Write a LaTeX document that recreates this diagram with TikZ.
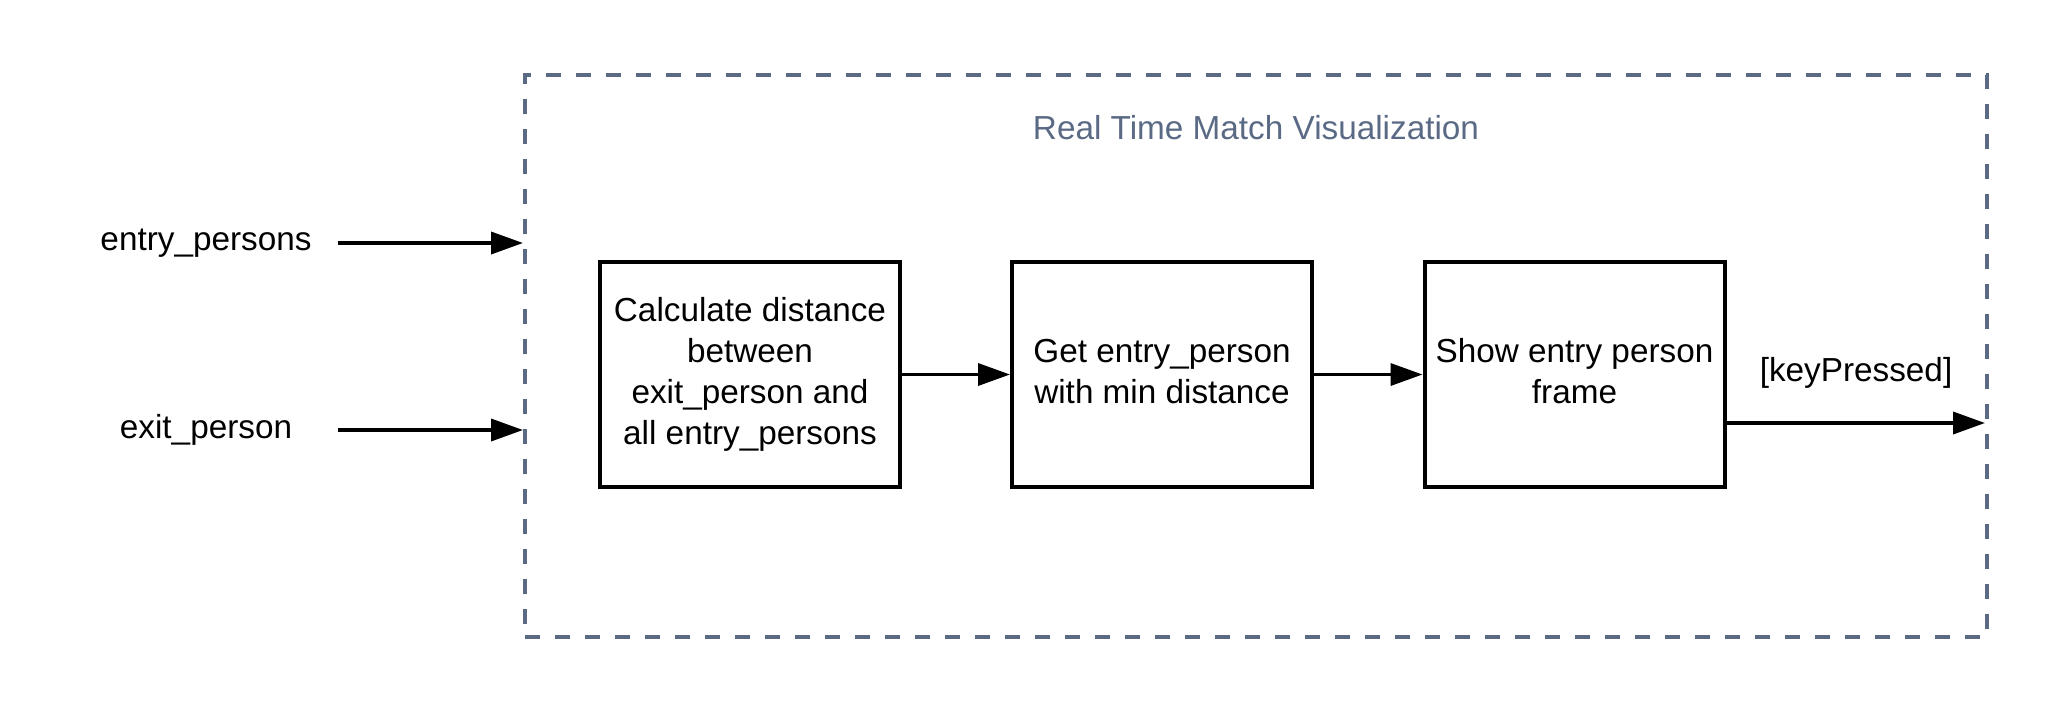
\documentclass[tikz,border=0pt]{standalone}
\usepackage{fontspec}
\setmainfont{Liberation Sans}
\usetikzlibrary{arrows.meta}
\definecolor{framecol}{HTML}{5A6A85}
\newcommand\firststrut{\rule{0pt}{29pt}}
\newcommand\laststrut{\rule[-12.5pt]{0pt}{12.5pt}}
\begin{document}
\begin{tikzpicture}[x=1pt,y=-1pt,
  every node/.style={font=\fontsize{33.3}{41}\selectfont},
  proc/.style={draw=black, line width=4pt, minimum width=300pt, minimum height=225pt,
    inner sep=0pt, align=center},
  flow/.style={line width=3.6pt, -{Triangle[length=32pt,width=22pt]}},
  groupbox/.style={draw=framecol, line width=4pt, dash pattern=on 15pt off 15pt,
    minimum width=1462pt, minimum height=562pt, inner sep=0pt}]
\useasboundingbox (0,0) rectangle (2063,713);
\node[groupbox] (group) at (1256,356) {};
\node[text=framecol, anchor=base] (title) at (1256,139) {Real Time Match Visualization};

\node[proc] (box1) at (750,374.5) {\firststrut Calculate distance\\between\\exit\_person and\\all entry\_persons\laststrut};
\node[proc] (box2) at (1162,374.5) {\firststrut Get entry\_person\\with min distance\laststrut};
\node[proc] (box3) at (1574.5,374.5) {\firststrut Show entry person\\frame\laststrut};

\node[anchor=base] (entrylbl) at (206,250.5) {entry\_persons};
\node[anchor=base] (exitlbl) at (206,438) {exit\_person};
\node[anchor=base] (keylbl) at (1856,381.7) {[keyPressed]};

\coordinate (entrystart) at (338,243);
\coordinate (entryend) at (523,243);
\coordinate (exitstart) at (338,430);
\coordinate (exitend) at (523,430);
\coordinate (outend) at (1985,423);

\draw[flow] (entrystart) -- (entryend);
\draw[flow] (exitstart) -- (exitend);
\draw[flow] (box1) -- (box2);
\draw[flow] (box2) -- (box3);
\draw[flow] (box3.east |- outend) -- (outend);
\end{tikzpicture}
\end{document}
